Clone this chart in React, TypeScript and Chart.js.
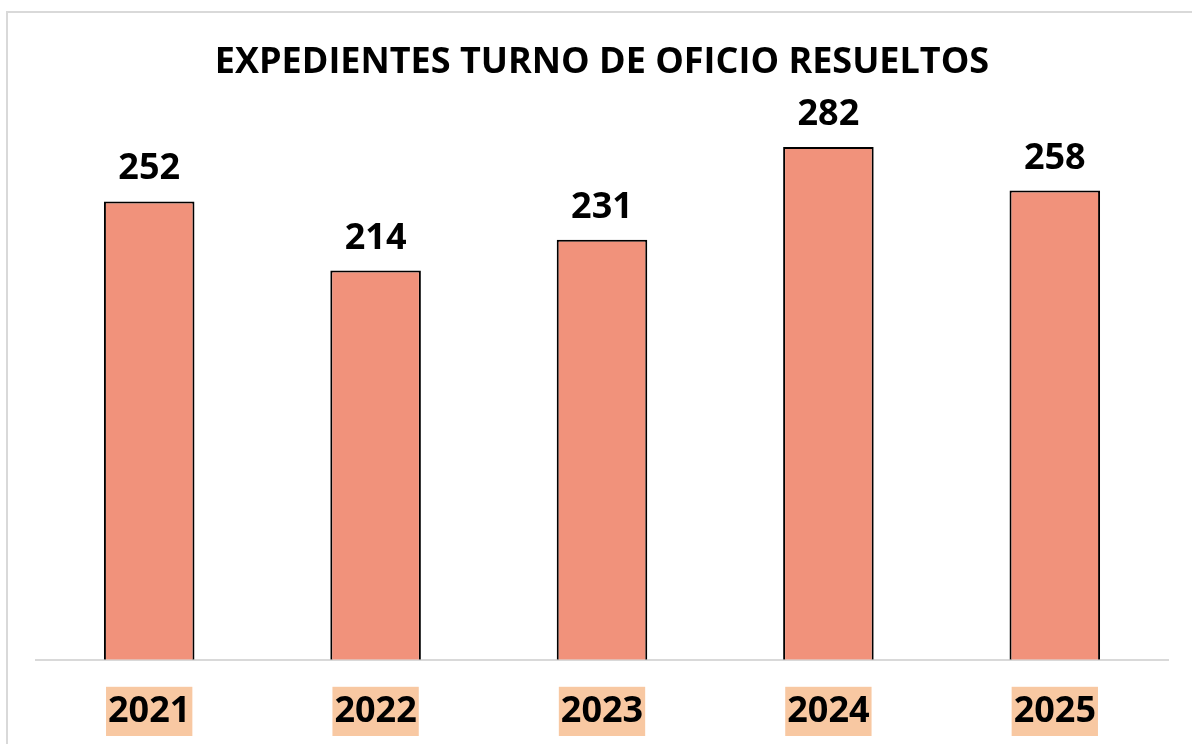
import React, { useEffect, useRef } from "react";
import { Chart, registerables } from "chart.js";

Chart.register(...registerables);

const categories = ["2021", "2022", "2023", "2024", "2025"];
const values = [252, 214, 231, 282, 258];
const titleText = "EXPEDIENTES TURNO DE OFICIO RESUELTOS";

const FONT = "'Open Sans', 'Noto Sans', sans-serif";

const valueLabels = {
  id: "valueLabels",
  afterDatasetsDraw(chart: any) {
    const { ctx } = chart;
    const meta = chart.getDatasetMeta(0);
    ctx.save();
    ctx.font = `bold 36px ${FONT}`;
    ctx.fillStyle = "#000";
    ctx.textAlign = "center";
    ctx.textBaseline = "alphabetic";
    meta.data.forEach((bar: any, i: number) => {
      ctx.fillText(String(chart.data.datasets[0].data[i]), bar.x, bar.y - 22);
    });
    ctx.restore();
  },
};

export default function App() {
  const ref = useRef<HTMLCanvasElement | null>(null);
  useEffect(() => {
    document.body.style.margin = "0";
    document.body.style.overflow = "hidden";
    const chart = new Chart(ref.current!, {
      type: "bar",
      data: {
        labels: categories,
        datasets: [
          {
            data: values,
            backgroundColor: "#F1927B",
            borderColor: "#000000",
            borderWidth: 2,
            barPercentage: 0.4,
            categoryPercentage: 1,
          },
        ],
      },
      options: {
        animation: false,
        responsive: false,
        layout: { padding: { left: 36, right: 24, top: 0, bottom: 12 } },
        plugins: {
          legend: { display: false },
          tooltip: { enabled: false },
          title: {
            display: true,
            text: titleText,
            color: "#000",
            font: { family: FONT, size: 36, weight: "bold", lineHeight: 1.2 },
            padding: { top: 41, bottom: 30 },
          },
        },
        scales: {
          x: {
            grid: { display: false, drawTicks: false },
            border: { display: true, color: "#D9D9D9", width: 2 },
            ticks: {
              color: "#000",
              padding: 30,
              font: { family: FONT, size: 36, weight: "bold", lineHeight: 1.2 },
              showLabelBackdrop: true,
              backdropColor: "#F8C8A2",
              backdropPadding: { top: 3, bottom: 3, left: 2, right: 2 },
            } as any,
          },
          y: {
            display: false,
            min: 0,
            max: 300,
          },
        },
      },
      plugins: [valueLabels],
    });
    return () => chart.destroy();
  }, []);
  return (
    <div style={{ position: "relative", width: 1192, height: 744, overflow: "hidden", background: "#fff" }}>
      <div
        style={{
          position: "absolute",
          left: 6,
          top: 11,
          width: 1300,
          height: 900,
          border: "2px solid #D9D9D9",
        }}
      />
      <canvas ref={ref} width={1192} height={775} style={{ position: "absolute", left: 0, top: 0 }} />
    </div>
  );
}
